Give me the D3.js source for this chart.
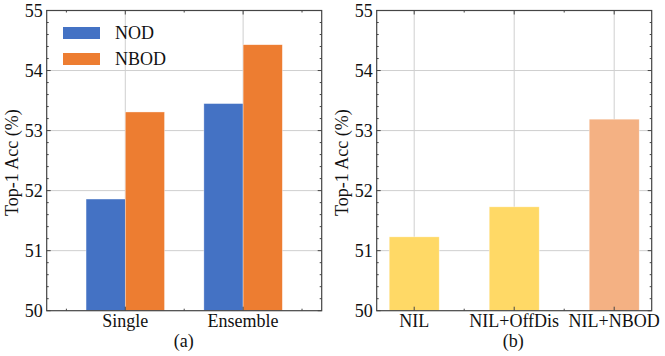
<!DOCTYPE html>
<html>
<head>
<meta charset="utf-8">
<script src="https://cdn.jsdelivr.net/npm/d3@7"></script>
<style>
  body { margin: 0; background: #fff; }
</style>
</head>
<body>
<div id="chart"></div>
<script>
// Panel (a) data
var groupsA = ["Single", "Ensemble"];
var seriesA = ["NOD", "NBOD"];
var nodVals = [51.86, 53.45];
var nbodVals = [53.31, 54.43];
var colorsA = ["#4472C4", "#ED7D31"];

// Panel (b) data
var catsB = ["NIL", "NIL+OffDis", "NIL+NBOD"];
var valsB = [51.23, 51.73, 53.19];
var colorsB = ["#FFD966", "#FFD966", "#F4B183"];

var yTicks = [50, 51, 52, 53, 54, 55];

var svgWidth = 665;
var svgHeight = 356;
var fontSize = "18px";

var svg = d3.select("#chart")
  .append("svg")
  .attr("width", svgWidth)
  .attr("height", svgHeight)
  .attr("font-family", "'Liberation Serif', 'DejaVu Serif', serif")
  .style("font-family", "'Liberation Serif', 'DejaVu Serif', serif");

var plotTop = 10.5, plotBottom = 310.7;
var yScale = d3.scaleLinear().domain([50, 55]).range([plotBottom, plotTop]);

var frameColor = "#444";
var gridColor = "#cfcfcf";
var textColor = "#111";

// Gridlines drawn behind the bars
function drawGrid(g, x0, x1, xScale, majors) {
  g.selectAll(".hgrid")
    .data(yTicks.slice(1, -1))
    .enter().append("line")
    .attr("x1", x0).attr("x2", x1)
    .attr("y1", d => yScale(d)).attr("y2", d => yScale(d))
    .attr("stroke", gridColor).attr("stroke-width", 1);

  g.selectAll(".vgrid")
    .data(majors)
    .enter().append("line")
    .attr("x1", d => xScale(d)).attr("x2", d => xScale(d))
    .attr("y1", plotTop).attr("y2", plotBottom)
    .attr("stroke", gridColor).attr("stroke-width", 1);
}

function drawAxes(g, x0, x1, xScale, majors, minors, labels) {
  var ticks = g.append("g");
  var yMinor = d3.range(50, 55.001, 0.2);
  // y ticks, left and right, inward
  yMinor.forEach(function(v) {
    var isMajor = Math.abs(v - Math.round(v)) < 1e-6;
    var len = isMajor ? 4 : 2;
    ticks.append("line").attr("x1", x0).attr("x2", x0 + len)
      .attr("y1", yScale(v)).attr("y2", yScale(v));
    ticks.append("line").attr("x1", x1).attr("x2", x1 - len)
      .attr("y1", yScale(v)).attr("y2", yScale(v));
  });
  // x ticks, bottom and top
  majors.forEach(function(v) {
    ticks.append("line").attr("x1", xScale(v)).attr("x2", xScale(v))
      .attr("y1", plotBottom).attr("y2", plotBottom - 4);
    ticks.append("line").attr("x1", xScale(v)).attr("x2", xScale(v))
      .attr("y1", plotTop).attr("y2", plotTop + 4);
  });
  minors.forEach(function(v) {
    ticks.append("line").attr("x1", xScale(v)).attr("x2", xScale(v))
      .attr("y1", plotBottom).attr("y2", plotBottom - 2);
    ticks.append("line").attr("x1", xScale(v)).attr("x2", xScale(v))
      .attr("y1", plotTop).attr("y2", plotTop + 2);
  });
  ticks.selectAll("line").attr("stroke", frameColor).attr("stroke-width", 1);

  g.append("rect")
    .attr("x", x0).attr("y", plotTop)
    .attr("width", x1 - x0).attr("height", plotBottom - plotTop)
    .attr("fill", "none").attr("stroke", frameColor).attr("stroke-width", 1.2);

  // y tick labels
  g.selectAll(".ylab")
    .data(yTicks)
    .enter().append("text")
    .attr("x", x0 - 4)
    .attr("y", d => yScale(d))
    .attr("dy", "0.35em")
    .attr("text-anchor", "end")
    .attr("font-size", fontSize)
    .attr("fill", textColor)
    .text(d => d);

  // x tick labels
  g.selectAll(".xlab")
    .data(labels)
    .enter().append("text")
    .attr("x", (d, i) => xScale(majors[i]))
    .attr("y", plotBottom + 16.5)
    .attr("text-anchor", "middle")
    .attr("font-size", fontSize)
    .attr("fill", textColor)
    .text(d => d);

  // y axis title
  g.append("text")
    .attr("transform", `translate(${x0 - 29}, ${(plotTop + plotBottom) / 2 + 2}) rotate(-90)`)
    .attr("text-anchor", "middle")
    .attr("font-size", fontSize)
    .attr("fill", textColor)
    .text("Top-1 Acc (%)");
}

// ---- Panel (a)
var xa0 = 46.7, xa1 = 321.7;
var xA = d3.scaleLinear().domain([-0.667, 1.667]).range([xa0, xa1]);
var gA = svg.append("g");
drawGrid(gA, xa0, xa1, xA, [0, 1]);

var bw = 0.333;
var valuesA = [nodVals, nbodVals];
seriesA.forEach(function(s, si) {
  gA.selectAll(".bar" + si)
    .data(valuesA[si])
    .enter().append("rect")
    .attr("x", (d, i) => xA(i - bw + si * bw))
    .attr("width", xA(bw) - xA(0))
    .attr("y", d => yScale(d))
    .attr("height", d => plotBottom - yScale(d))
    .attr("fill", colorsA[si])
    .attr("stroke", "#fff")
    .attr("stroke-opacity", 0.6)
    .attr("stroke-width", 0.6);
});

drawAxes(gA, xa0, xa1, xA, [0, 1], [-0.5, 0.5, 1.5], groupsA);

// legend
var legend = gA.append("g");
seriesA.forEach(function(s, i) {
  legend.append("rect")
    .attr("x", 63).attr("y", 27 + i * 26)
    .attr("width", 37).attr("height", 12)
    .attr("fill", colorsA[i]);
  legend.append("text")
    .attr("x", 115).attr("y", 33 + i * 26)
    .attr("dy", "0.35em")
    .attr("font-size", fontSize)
    .attr("fill", textColor)
    .text(s);
});

gA.append("text")
  .attr("x", (xa0 + xa1) / 2 - 0.5)
  .attr("y", 347)
  .attr("text-anchor", "middle")
  .attr("font-size", fontSize)
  .attr("fill", textColor)
  .text("(a)");

// ---- Panel (b)
var xb0 = 376.7, xb1 = 651.7;
var xB = d3.scaleLinear().domain([-0.375, 2.375]).range([xb0, xb1]);
var gB = svg.append("g");
drawGrid(gB, xb0, xb1, xB, [0, 1, 2]);

gB.selectAll(".barb")
  .data(valsB)
  .enter().append("rect")
  .attr("x", (d, i) => xB(i - 0.25))
  .attr("width", xB(0.5) - xB(0))
  .attr("y", d => yScale(d))
  .attr("height", d => plotBottom - yScale(d))
  .attr("fill", (d, i) => colorsB[i])
  .attr("stroke", "#fff")
  .attr("stroke-opacity", 0.6)
  .attr("stroke-width", 0.6);

drawAxes(gB, xb0, xb1, xB, [0, 1, 2], [0.5, 1.5], catsB);

gB.append("text")
  .attr("x", (xb0 + xb1) / 2 - 1)
  .attr("y", 347)
  .attr("text-anchor", "middle")
  .attr("font-size", fontSize)
  .attr("fill", textColor)
  .text("(b)");
</script>
</body>
</html>
